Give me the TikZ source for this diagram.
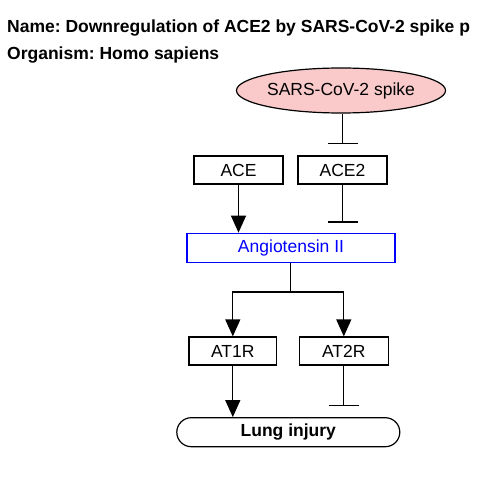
\documentclass[tikz,border=0pt]{standalone}
\usepackage{fontspec}
\setmainfont{Liberation Sans}
\usetikzlibrary{arrows.meta,shapes.geometric,shapes.misc}
\definecolor{spikepink}{RGB}{250,202,202}
\definecolor{angblue}{RGB}{0,0,255}
\frenchspacing
\tikzset{
  every node/.style={font=\fontsize{17.5}{21}\selectfont, inner sep=0pt},
  genebox/.style={draw=black, line width=1.2pt, rectangle, minimum width=89pt, minimum height=28pt},
  act/.style={line width=1.2pt, -{Triangle[width=15pt,length=17pt]}},
  inhib/.style={line width=1.2pt, -{Bar[width=30pt,line width=1.2pt]}},
  plainline/.style={line width=1.2pt},
  titletext/.style={anchor=base west, font=\bfseries\fontsize{17.5}{21}\selectfont}
}
\begin{document}
\begin{tikzpicture}[x=1pt,y=-1pt]
\useasboundingbox (0,0) rectangle (480,492);
\node[titletext] (t1) at (7,32.5) {Name: Downregulation of ACE2 by SARS-CoV-2 spike p};
\node[titletext] (t2) at (7,59.5) {Organism: Homo sapiens};

\node[ellipse, draw=black, fill=spikepink, line width=1.2pt, minimum width=178pt, minimum height=45pt] (spike) at (341,90.5) {SARS-CoV-2 spike};

\node[genebox] (ace) at (238.5,170) {ACE};
\node[genebox] (ace2) at (342.5,170) {ACE2};

\node[rectangle, draw=angblue, text=angblue, line width=1.2pt, minimum width=208pt, minimum height=29.5pt] (ang) at (291,248) {Angiotensin II};

\node[genebox, minimum width=87.7pt] (at1r) at (232.8,351) {AT1R};
\node[genebox] (at2r) at (343.8,351) {AT2R};

\node[rounded rectangle, draw=black, line width=1.2pt, minimum width=223pt, minimum height=29pt, font=\bfseries\fontsize{17.5}{21}\selectfont] (lung) at (288.3,432.2) {Lung injury};

\coordinate (branch) at (290.7,292);

\draw[inhib] (spike.south -| ace2.north) -- ([yshift=11pt]ace2.north);
\draw[act] (ace.south) -- (ace.south |- ang.north);
\draw[inhib] (ace2.south) -- ([yshift=10pt]ace2.south |- ang.north);
\draw[plainline] (ang.south -| branch) -- (branch);
\draw[act] (branch) -| (at1r.north);
\draw[act] (branch) -| (at2r.north);
\draw[act] (at1r.south) -- (at1r.south |- lung.north);
\draw[inhib] (at2r.south) -- ([yshift=11pt]at2r.south |- lung.north);
\end{tikzpicture}
\end{document}
